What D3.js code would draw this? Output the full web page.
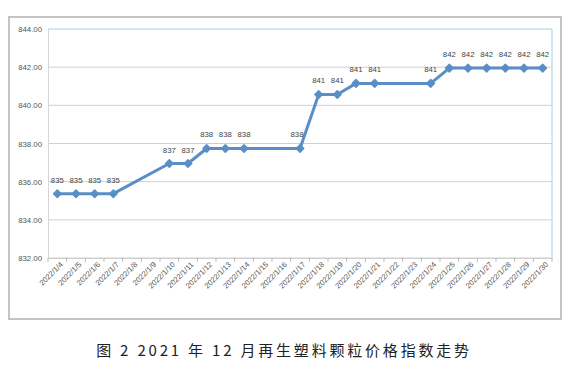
<!DOCTYPE html>
<html>
<head>
<meta charset="utf-8">
<script src="https://cdnjs.cloudflare.com/ajax/libs/d3/7.8.5/d3.min.js"></script>
<style>
  body { margin: 0; background: #fff; }
  svg { display: block; }
</style>
</head>
<body>
<div id="chart"></div>
<script>
// days of January 2022 shown on the axis
var days = d3.range(4, 31);
var dates = days.map(function(d){ return "2022/1/" + d; });
// index values (null = no quote that day)
var values = [835.37, 835.37, 835.37, 835.37, null, null,
  836.95, 836.95, 837.74, 837.74, 837.74, null, null, 837.74,
  840.57, 840.57, 841.15, 841.15, null, null, 841.15,
  841.95, 841.95, 841.95, 841.95, 841.95, 841.95];
var yTicks = [832, 834, 836, 838, 840, 842, 844];
var caption = "图 2  2021 年 12 月再生塑料颗粒价格指数走势";

var W = 583, H = 376;
var plot = {left: 48, right: 552, top: 29, bottom: 258};

var svg = d3.select("#chart").append("svg")
  .attr("width", W).attr("height", H);

// outer frame
svg.append("rect")
  .attr("x", 9).attr("y", 17).attr("width", 552).attr("height", 302)
  .attr("fill", "#fff").attr("stroke", "#c4c4c4").attr("stroke-width", 2);

var x = d3.scaleBand().domain(dates).range([plot.left, plot.right]);
var y = d3.scaleLinear().domain([832, 844]).range([plot.bottom, plot.top]);

// gridlines
svg.selectAll("line.grid").data(yTicks).enter().append("line")
  .attr("class", "grid")
  .attr("x1", plot.left).attr("x2", plot.right)
  .attr("y1", function(d){ return y(d); }).attr("y2", function(d){ return y(d); })
  .attr("stroke", function(d){ return d == 844 ? "#a9d0e0" : "#cfcfcf"; })
  .attr("stroke-width", 1);

// right border of plot area
svg.append("line")
  .attr("x1", plot.right).attr("x2", plot.right)
  .attr("y1", plot.top).attr("y2", plot.bottom)
  .attr("stroke", "#a9d0e0");

// y axis
var yAxis = svg.append("g")
  .attr("transform", "translate(" + plot.left + ",0)")
  .call(d3.axisLeft(y).tickValues(yTicks).tickFormat(d3.format(".2f")).tickSize(0).tickPadding(6));
yAxis.select(".domain").attr("stroke", "#d6d6d6");
yAxis.selectAll("text")
  .attr("font-family", "Liberation Sans, Arial, sans-serif")
  .attr("font-size", 7.8).attr("fill", "#555");

// x axis with ticks between categories
var xAxis = svg.append("g")
  .attr("transform", "translate(0," + plot.bottom + ")")
  .call(d3.axisBottom(x).tickSize(0).tickPadding(4));
xAxis.select(".domain").attr("stroke", "#cfcfcf");
xAxis.selectAll("text")
  .attr("font-family", "Liberation Sans, Arial, sans-serif")
  .attr("font-size", 7.6).attr("fill", "#555")
  .attr("text-anchor", "end")
  .attr("dx", "-0.1em").attr("dy", "0.7em")
  .attr("transform", "rotate(-45)");

svg.selectAll("line.xtick").data(dates.concat(["end"])).enter().append("line")
  .attr("class", "xtick")
  .attr("x1", function(d, i){ return plot.left + i * x.step(); })
  .attr("x2", function(d, i){ return plot.left + i * x.step(); })
  .attr("y1", plot.bottom).attr("y2", plot.bottom + 4)
  .attr("stroke", "#bbb");

var pts = dates.map(function(d, i){ return {date: d, v: values[i]}; })
  .filter(function(p){ return p.v != null; });

var cx = function(p){ return x(p.date) + x.bandwidth() / 2; };

svg.append("path")
  .datum(pts)
  .attr("fill", "none")
  .attr("stroke", "#5a8ec6")
  .attr("stroke-width", 3)
  .attr("stroke-linejoin", "round")
  .attr("d", d3.line().x(cx).y(function(p){ return y(p.v); }));

// diamond markers (square turned 45 degrees)
svg.selectAll("path.mark").data(pts).enter().append("path")
  .attr("class", "mark")
  .attr("d", d3.symbol().type(d3.symbolSquare).size(28))
  .attr("transform", function(p){ return "translate(" + cx(p) + "," + y(p.v) + ") rotate(45)"; })
  .attr("fill", "#5a8ec6")
  .attr("stroke", "#5a8ec6").attr("stroke-width", 1.5).attr("stroke-linejoin", "round");

svg.selectAll("text.lbl").data(pts).enter().append("text")
  .attr("class", "lbl")
  .attr("x", function(p){ return cx(p) - (p.date == "2022/1/17" ? 3 : 0); })
  .attr("y", function(p){ return y(p.v) - 11; })
  .attr("text-anchor", "middle")
  .attr("font-family", "Liberation Sans, Arial, sans-serif")
  .attr("font-size", 7.8).attr("fill", "#444")
  .text(function(p){ return Math.round(p.v); });

svg.append("text")
  .attr("x", 284).attr("y", 356)
  .attr("text-anchor", "middle")
  .attr("font-family", "Noto Sans CJK SC, sans-serif")
  .attr("font-size", 15)
  .attr("letter-spacing", 2.8)
  .attr("fill", "#222")
  .text(caption);
</script>
</body>
</html>
